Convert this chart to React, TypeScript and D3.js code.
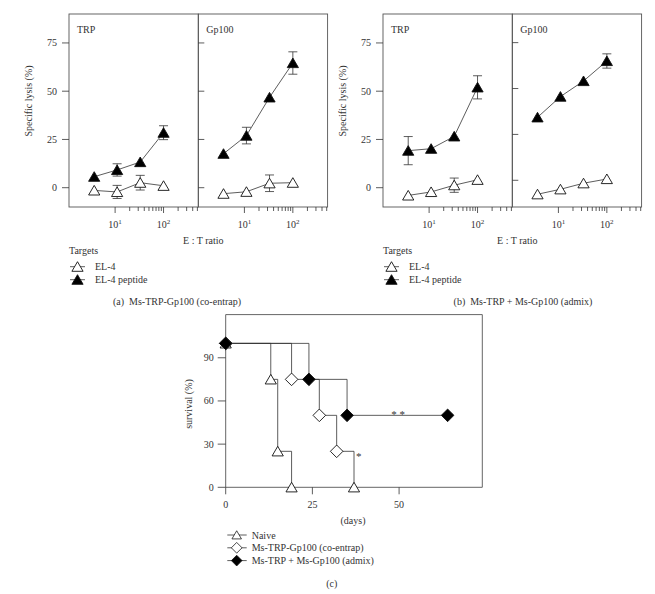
import { useEffect, useRef } from 'react';
import * as d3 from 'd3';

// E:T ratios (log x axis) shared by all lysis panels
const etRatio = [3.7, 11, 33, 100];
const etTicks = [10, 20, 30, 40, 50, 60, 70, 80, 90, 100, 200, 300, 400, 500];
const etMajor = [10, 100];
const lysisTicks = [0, 25, 50, 75];

// (a) co-entrap
const aTrpPeptide = [5.7, 9.2, 13.3, 28.5];
const aTrpPeptideErr = [0, 3.2, 0, 3.6];
const aTrpEl4 = [-1.4, -2.2, 2.6, 1.0];
const aTrpEl4Err = [0, 3.4, 3.8, 0];
const aGpPeptide = [17.6, 27.0, 46.8, 64.6];
const aGpPeptideErr = [0, 4.3, 0, 5.8];
const aGpEl4 = [-3.1, -2.1, 2.3, 2.6];
const aGpEl4Err = [0, 0, 4.3, 0];

// (b) admix
const bTrpPeptide = [19.2, 20.2, 26.6, 52.0];
const bTrpPeptideErr = [7.3, 0, 0, 6.0];
const bTrpEl4 = [-4.0, -2.2, 1.3, 4.1];
const bTrpEl4Err = [0, 0, 3.7, 0];
const bGpPeptide = [34.3, 45.6, 54.1, 65.0];
const bGpPeptideErr = [0, 0, 0, 3.9];
const bGpEl4 = [-7.6, -4.9, -1.6, 0.7];
const bGpEl4Err = [0, 0, 0, 0];

// (c) survival
const naiveDays = [0, 13, 15, 19];
const naiveSurvival = [100, 75, 25, 0];
const naiveShapes = ['triangle', 'triangle', 'triangle', 'triangle'];
const coDays = [0, 19, 27, 32, 37];
const coSurvival = [100, 75, 50, 25, 0];
const coShapes = ['diamond', 'diamond', 'diamond', 'diamond', 'triangle'];
const admixDays = [0, 24, 35, 64];
const admixSurvival = [100, 75, 50, 50];
const admixShapes = ['diamond', 'diamond', 'diamond', 'diamond'];
const survivalTicks = [0, 30, 60, 90];
const dayTicks = [0, 25, 50];

const font = '"Liberation Serif", "DejaVu Serif", serif';
const ink = '#333';

const markerPath = (shape) => {
    if (shape === 'diamond') return 'M0,-6.3L6.3,0L0,6.3L-6.3,0Z';
    return 'M0,-5L5.6,4.6L-5.6,4.6Z';
};

const App = () => {
    const svgRef = useRef();

    useEffect(() => {
        const svg = d3.select(svgRef.current);
        svg.selectAll('*').remove();
        svg.append('rect').attr('width', 655).attr('height', 594).attr('fill', '#fff');

        const lysisTop = 14;
        const lysisBottom = 207;
        const subW = 129.3;

        const txt = (x, y, s, size, anchor = 'middle') =>
            svg.append('text')
                .attr('x', x)
                .attr('y', y)
                .attr('text-anchor', anchor)
                .attr('font-family', font)
                .attr('font-size', size)
                .attr('fill', ink)
                .text(s);

        const drawMarker = (g, x, y, shape, filled) => {
            g.append('path')
                .attr('d', markerPath(shape))
                .attr('transform', `translate(${x},${y})`)
                .attr('fill', filled ? '#000' : '#fff')
                .attr('stroke', '#111')
                .attr('stroke-width', 0.9);
        };

        const drawSeries = (g, x, y, values, errs, filled) => {
            const line = d3.line().x((d, i) => x(etRatio[i])).y((d) => y(d));
            g.append('path')
                .datum(values)
                .attr('fill', 'none')
                .attr('stroke', ink)
                .attr('stroke-width', 0.8)
                .attr('d', line);
            values.forEach((v, i) => {
                if (!errs[i]) return;
                const cx = x(etRatio[i]);
                const y1 = y(v + errs[i]);
                const y2 = y(v - errs[i]);
                g.append('path')
                    .attr('d', `M${cx},${y1}V${y2}M${cx - 4.5},${y1}H${cx + 4.5}M${cx - 4.5},${y2}H${cx + 4.5}`)
                    .attr('stroke', ink)
                    .attr('stroke-width', 0.8)
                    .attr('fill', 'none');
            });
            values.forEach((v, i) => drawMarker(g, x(etRatio[i]), y(v), 'triangle', filled));
        };

        const drawSub = (x0, name, yDomain, first, series) => {
            const g = svg.append('g');
            const x = d3.scaleLog().domain([1.116, 522]).range([x0, x0 + subW]);
            const y = d3.scaleLinear().domain(yDomain).range([lysisBottom, lysisTop]);

            g.append('rect')
                .attr('x', x0)
                .attr('y', lysisTop)
                .attr('width', subW)
                .attr('height', lysisBottom - lysisTop)
                .attr('fill', 'none')
                .attr('stroke', '#555')
                .attr('stroke-width', 0.9);

            // x ticks
            etTicks.forEach((t) => {
                const len = etMajor.includes(t) ? 6 : 4;
                g.append('line')
                    .attr('x1', x(t)).attr('x2', x(t))
                    .attr('y1', lysisBottom).attr('y2', lysisBottom + len)
                    .attr('stroke', ink).attr('stroke-width', 0.8);
            });
            etMajor.forEach((t) => {
                const label = g.append('text')
                    .attr('x', x(t))
                    .attr('y', lysisBottom + 21)
                    .attr('text-anchor', 'middle')
                    .attr('font-family', font)
                    .attr('font-size', 10)
                    .attr('fill', ink);
                label.append('tspan').text('10');
                label.append('tspan').attr('dy', -4).attr('font-size', 7).text(String(Math.log10(t)));
            });

            // y ticks
            lysisTicks.forEach((t) => {
                g.append('line')
                    .attr('x1', first ? x0 - 7 : x0).attr('x2', first ? x0 : x0 + 6)
                    .attr('y1', y(t)).attr('y2', y(t))
                    .attr('stroke', ink).attr('stroke-width', 0.8);
                if (first) {
                    g.append('text')
                        .attr('x', x0 - 12)
                        .attr('y', y(t) + 3.5)
                        .attr('text-anchor', 'end')
                        .attr('font-family', font)
                        .attr('font-size', 10)
                        .attr('fill', ink)
                        .text(t);
                }
            });

            g.append('text')
                .attr('x', x0 + 8)
                .attr('y', lysisTop + 19)
                .attr('font-family', font)
                .attr('font-size', 10)
                .attr('fill', ink)
                .text(name);

            series.forEach((s) => drawSeries(g, x, y, s.values, s.errs, s.filled));
        };

        const drawLysisPanel = (left, caption, captionX, trp, gp, gpDomain) => {
            drawSub(left, 'TRP', [-10, 90], true, trp);
            drawSub(left + subW, 'Gp100', gpDomain, false, gp);

            svg.append('text')
                .attr('transform', `translate(${left - 37},${101}) rotate(-90)`)
                .attr('text-anchor', 'middle')
                .attr('font-family', font)
                .attr('font-size', 10)
                .attr('fill', ink)
                .text('Specific lysis (%)');

            txt(left + subW + 5, 244, 'E : T ratio', 10);

            // legend
            txt(left, 254, 'Targets', 10, 'start');
            [
                { label: 'EL-4', filled: false },
                { label: 'EL-4 peptide', filled: true },
            ].forEach((d, i) => {
                const cy = 266.7 + i * 13;
                svg.append('line')
                    .attr('x1', left + 1).attr('x2', left + 16)
                    .attr('y1', cy).attr('y2', cy)
                    .attr('stroke', ink).attr('stroke-width', 0.8);
                drawMarker(svg, left + 8.5, cy, 'triangle', d.filled);
                txt(left + 26, cy + 3.5, d.label, 10, 'start');
            });

            txt(captionX, 305, caption, 10).attr('xml:space', 'preserve');
        };

        drawLysisPanel(
            69,
            '(a)  Ms-TRP-Gp100 (co-entrap)',
            177,
            [
                { values: aTrpEl4, errs: aTrpEl4Err, filled: false },
                { values: aTrpPeptide, errs: aTrpPeptideErr, filled: true },
            ],
            [
                { values: aGpEl4, errs: aGpEl4Err, filled: false },
                { values: aGpPeptide, errs: aGpPeptideErr, filled: true },
            ],
            [-10, 90],
        );

        drawLysisPanel(
            383,
            '(b)  Ms-TRP + Ms-Gp100 (admix)',
            523,
            [
                { values: bTrpEl4, errs: bTrpEl4Err, filled: false },
                { values: bTrpPeptide, errs: bTrpPeptideErr, filled: true },
            ],
            [
                { values: bGpEl4, errs: bGpEl4Err, filled: false },
                { values: bGpPeptide, errs: bGpPeptideErr, filled: true },
            ],
            [-14.55, 90.6],
        );

        // (c) survival
        const sx = d3.scaleLinear().domain([0, 74]).range([225.7, 482.3]);
        const sy = d3.scaleLinear().domain([0, 120]).range([487.3, 314.6]);
        const sg = svg.append('g');

        sg.append('path')
            .attr('d', `M${sx(0)},${sy(120)}H${sx(74)}V${sy(0)}H${sx(0)}Z`)
            .attr('fill', 'none')
            .attr('stroke', '#555')
            .attr('stroke-width', 0.9);

        survivalTicks.forEach((t) => {
            sg.append('line')
                .attr('x1', sx(0) - 8).attr('x2', sx(0))
                .attr('y1', sy(t)).attr('y2', sy(t))
                .attr('stroke', ink).attr('stroke-width', 0.8);
            txt(sx(0) - 12, sy(t) + 3.5, t, 10, 'end');
        });
        dayTicks.forEach((t) => {
            sg.append('line')
                .attr('x1', sx(t)).attr('x2', sx(t))
                .attr('y1', sy(0)).attr('y2', sy(0) + 7)
                .attr('stroke', ink).attr('stroke-width', 0.8);
            txt(sx(t), sy(0) + 20.5, t, 10);
        });

        svg.append('text')
            .attr('transform', `translate(192,404) rotate(-90)`)
            .attr('text-anchor', 'middle')
            .attr('font-family', font)
            .attr('font-size', 10)
            .attr('fill', ink)
            .text('survival (%)');
        txt(353, 524, '(days)', 10);

        const step = d3.line().x((d) => sx(d[0])).y((d) => sy(d[1])).curve(d3.curveStepAfter);
        const survSeries = [
            { days: naiveDays, surv: naiveSurvival, shapes: naiveShapes, filled: false },
            { days: coDays, surv: coSurvival, shapes: coShapes, filled: false },
            { days: admixDays, surv: admixSurvival, shapes: admixShapes, filled: true },
        ];
        survSeries.forEach((s) => {
            sg.append('path')
                .datum(s.days.map((d, i) => [d, s.surv[i]]))
                .attr('fill', 'none')
                .attr('stroke', ink)
                .attr('stroke-width', 0.8)
                .attr('d', step);
        });
        survSeries.forEach((s) => {
            s.days.forEach((d, i) => drawMarker(sg, sx(d), sy(s.surv[i]), s.shapes[i], s.filled));
        });

        txt(sx(49.7), sy(50) + 3, '* *', 11);
        txt(sx(37) + 2, sy(25) + 9, '*', 11, 'start');

        // legend (c)
        [
            { label: 'Naive', shape: 'triangle', filled: false },
            { label: 'Ms-TRP-Gp100 (co-entrap)', shape: 'diamond', filled: false },
            { label: 'Ms-TRP + Ms-Gp100 (admix)', shape: 'diamond', filled: true },
        ].forEach((d, i) => {
            const cy = 535 + i * 12.8;
            svg.append('line')
                .attr('x1', 227.3).attr('x2', 246.7)
                .attr('y1', cy).attr('y2', cy)
                .attr('stroke', ink).attr('stroke-width', 0.8);
            const m = svg.append('path')
                .attr('d', markerPath(d.shape))
                .attr('transform', `translate(236.7,${cy}) scale(0.85)`)
                .attr('fill', d.filled ? '#000' : '#fff')
                .attr('stroke', '#111')
                .attr('stroke-width', 0.9);
            txt(251.7, cy + 3.5, d.label, 10, 'start');
        });

        txt(331.7, 587, '(c)', 10);
    }, []);

    return (
        <div>
            <svg
                ref={svgRef}
                width={655}
                height={594}
                style={{ position: 'absolute', left: 0, top: 0 }}
            ></svg>
        </div>
    );
};

export default App;
